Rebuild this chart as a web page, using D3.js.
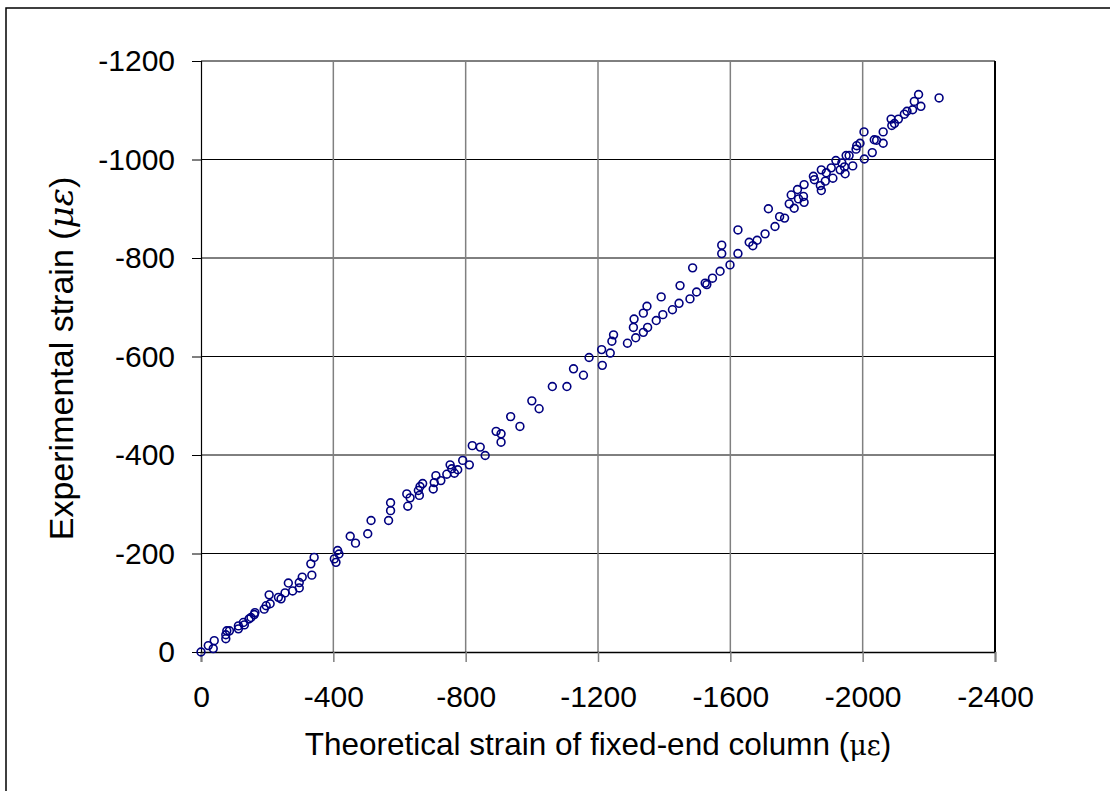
<!DOCTYPE html>
<html lang="en">
<head>
    <title>Experimental vs theoretical strain</title>
    <script src="https://d3js.org/d3.v7.min.js"></script>
    <style>
        body { margin: 0; background: #fff; }
        * { font-family: "Liberation Sans", Arial, sans-serif; }
        .tick text { font-size: 30px; fill: #000; }
        .title { fill: #000; }
        .greek { font-family: "DejaVu Serif", "Liberation Serif", serif; }
        .point { fill: none; stroke: #000080; stroke-width: 1.6; }
    </style>
</head>
<body>
<svg class="chart"></svg>

<script>
    // tick labels
    const xTicks = [0, -400, -800, -1200, -1600, -2000, -2400];
    const yTicks = [0, -200, -400, -600, -800, -1000, -1200];

    // theoretical strain of fixed-end column (x) and measured strain (y)
    const theoretical = [
        0, -22, -37, -40, -75, -75, -78, -86, -113, -113, -128, -131, -145, -151, -161, -163,
        -191, -197, -209, -206, -234, -242, -254, -264, -277, -297, -297, -306, -335, -332, -342,
        -403, -408, -413, -417, -451, -467, -504, -514, -567, -573, -573,
        -625, -622, -632, -657, -660, -662, -670, -702, -705, -710, -725, -743, -753, -758, -766,
        -776, -791, -811, -820, -844, -859, -892, -907, -907, -936, -964, -1000, -1022, -1062,
        -1106, -1126, -1156,
        -1173, -1211, -1213, -1237, -1242, -1247, -1289, -1314, -1307, -1309, -1337, -1337, -1348,
        -1350, -1376, -1396, -1391, -1425, -1445, -1448, -1478, -1498, -1486, -1524, -1529, -1546,
        -1569, -1599, -1574, -1574, -1623, -1623, -1657, -1668, -1681, -1705, -1715, -1735,
        -1749, -1764, -1778, -1784, -1793, -1803, -1806, -1821, -1823, -1823, -1851, -1854, -1875,
        -1872, -1875, -1887, -1890, -1905, -1910, -1919, -1932, -1937, -1945, -1947, -1950, -1959,
        -1970, -1980, -1982, -1992, -2004, -2005, -2029, -2035, -2042, -2062, -2062, -2086, -2088,
        -2096, -2108, -2126, -2134, -2151, -2156, -2169, -2176, -2231
    ];
    const experimental = [
        0, -13, -7, -23, -27, -35, -43, -43, -47, -53, -60, -55, -67, -70, -76, -80,
        -87, -94, -98, -116, -111, -108, -120, -140, -124, -130, -141, -152, -156, -179, -192,
        -189, -182, -206, -199, -235, -221, -240, -267, -267, -287, -303,
        -296, -321, -313, -328, -318, -336, -342, -331, -344, -358, -348, -361, -380, -372, -363,
        -370, -389, -380, -419, -416, -399, -448, -443, -426, -478, -458, -510, -494, -539,
        -539, -575, -562,
        -598, -614, -582, -607, -631, -644, -627, -638, -659, -676, -649, -688, -702,
        -659, -673, -685, -721, -695, -708, -744, -717, -731, -780, -749, -746, -759,
        -773, -786, -809, -826, -809, -857, -832, -825, -836, -849, -900, -864,
        -884, -881, -910, -928, -901, -939, -920, -925, -913, -949, -966, -959, -937,
        -947, -979, -956, -973, -983, -962, -998, -979, -993, -985, -971, -1008, -1008,
        -987, -1021, -1028, -1033, -1056, -1001, -1014, -1040, -1039, -1033, -1056, -1082, -1069,
        -1073, -1082, -1092, -1098, -1101, -1118, -1132, -1108, -1125
    ];

    const width = 1110, height = 791;
    const plot = {left: 201, right: 995, top: 61, bottom: 652};

    const svg = d3.select("svg.chart")
        .attr("width", width)
        .attr("height", height);

    // outer frame, cut off on the right and bottom like the source picture
    svg.append("rect")
        .attr("x", 6).attr("y", 8)
        .attr("width", 1300).attr("height", 1000)
        .attr("fill", "none")
        .attr("stroke", "#000")
        .attr("stroke-width", 1.5);

    const x = d3.scaleLinear().domain([0, -2400]).range([plot.left, plot.right]);
    const y = d3.scaleLinear().domain([0, -1200]).range([plot.bottom, plot.top]);

    // plain hyphen minus, as in the source
    const fmt = d => String(d);

    // grid lines
    svg.append("g").selectAll("line")
        .data(yTicks.slice(1))
        .enter().append("line")
        .attr("x1", plot.left).attr("x2", plot.right)
        .attr("y1", d => y(d)).attr("y2", d => y(d))
        .attr("stroke", "#000").attr("stroke-width", 1);

    svg.append("g").selectAll("line")
        .data(xTicks.slice(1, -1))
        .enter().append("line")
        .attr("x1", d => x(d)).attr("x2", d => x(d))
        .attr("y1", plot.top).attr("y2", plot.bottom)
        .attr("stroke", "#808080").attr("stroke-width", 1.5);

    // right border of plot area
    svg.append("line")
        .attr("x1", plot.right).attr("x2", plot.right)
        .attr("y1", plot.top).attr("y2", plot.bottom)
        .attr("stroke", "#000").attr("stroke-width", 2);

    // axes
    const xAxis = svg.append("g")
        .attr("transform", `translate(0,${plot.bottom})`)
        .call(d3.axisBottom(x).tickValues(xTicks).tickFormat(fmt).tickSize(10).tickPadding(24));
    xAxis.select(".domain").attr("stroke", "#000").attr("stroke-width", 1.5);
    xAxis.selectAll(".tick line").attr("stroke", "#808080").attr("stroke-width", 1.5);

    const yAxis = svg.append("g")
        .attr("transform", `translate(${plot.left},0)`)
        .call(d3.axisLeft(y).tickValues(yTicks).tickFormat(fmt).tickSize(9).tickPadding(17));
    yAxis.select(".domain").attr("stroke", "#000").attr("stroke-width", 1.2);
    yAxis.selectAll(".tick line").attr("stroke", "#000");

    svg.selectAll(".tick text").attr("font-family", null).attr("font-size", null);

    // points
    svg.append("g").selectAll("circle")
        .data(theoretical.map((t, i) => [t, experimental[i]]))
        .enter().append("circle").attr("class", "point")
        .attr("cx", d => x(d[0]))
        .attr("cy", d => y(d[1]))
        .attr("r", 3.9);

    // axis titles
    const xTitle = svg.append("text").attr("class", "title")
        .style("font-size", "31.5px")
        .attr("x", (plot.left + plot.right) / 2)
        .attr("y", 755)
        .attr("text-anchor", "middle");
    xTitle.append("tspan").text("Theoretical strain of fixed-end column (");
    xTitle.append("tspan").attr("class", "greek").style("font-size", "27px").text("με");
    xTitle.append("tspan").text(")");

    const yTitle = svg.append("text").attr("class", "title")
        .style("font-size", "34px")
        .attr("transform", `translate(73,${(plot.top + plot.bottom) / 2 + 2}) rotate(-90)`)
        .attr("text-anchor", "middle");
    yTitle.append("tspan").text("Experimental strain (");
    yTitle.append("tspan").attr("class", "greek").style("font-style", "italic").text("με");
    yTitle.append("tspan").text(")");
</script>
</body>
</html>
